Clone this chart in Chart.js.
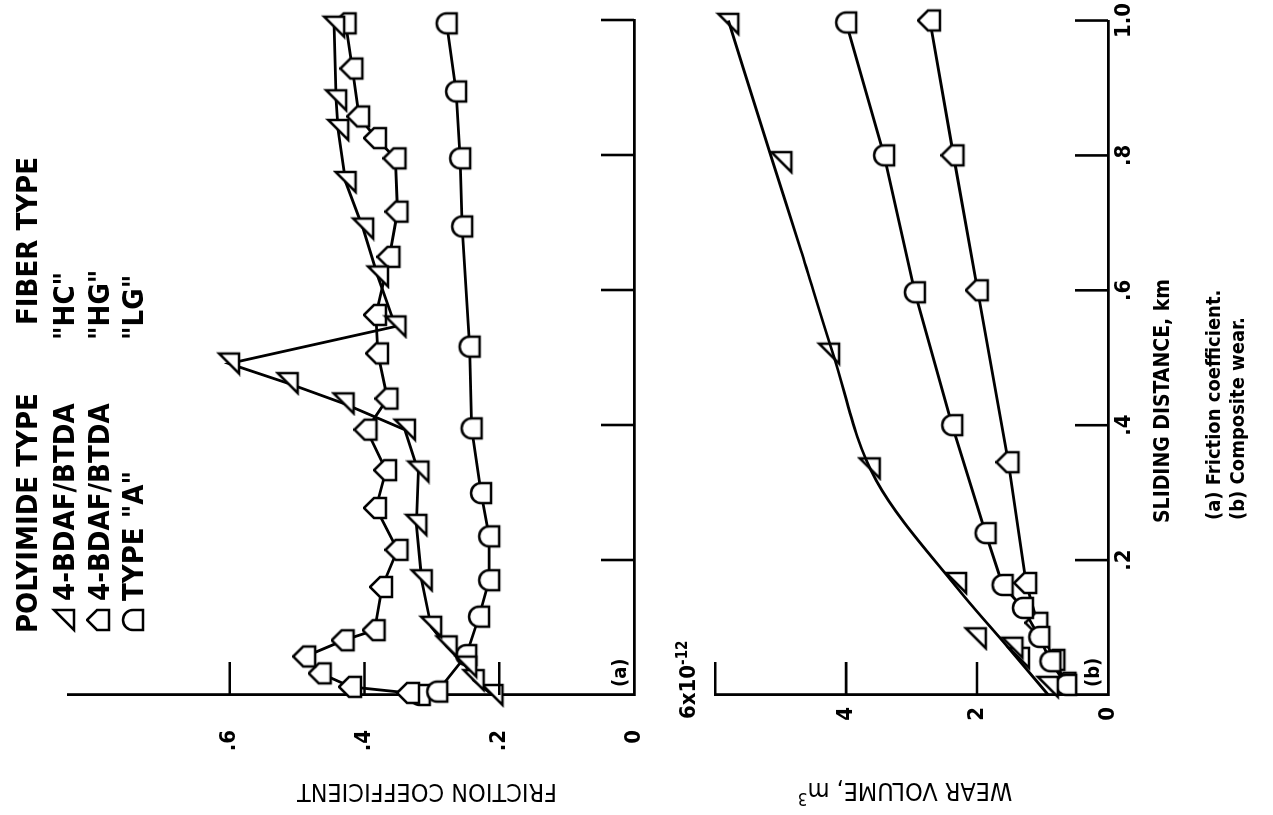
<!DOCTYPE html>
<html lang="en">
<head>
<meta charset="UTF-8">
<title>Friction and wear vs sliding distance</title>
<style>
    html, body { margin: 0; padding: 0; background: #fff; overflow: hidden; }
    body { width: 1273px; height: 815px; position: relative; }
    /* figure is laid out upright (815 x 1273) and turned a quarter turn */
    #fig {
        position: absolute; left: 0; top: 0;
        width: 815px; height: 1273px;
        transform-origin: 0 0;
        transform: translate(0px, 815px) rotate(-90deg);
    }
    #fig canvas { position: absolute; left: 0; }
    .t {
        position: absolute; white-space: nowrap; color: #000; line-height: 1;
        font-family: "Liberation Sans Narrow", "DejaVu Sans Condensed", "Liberation Sans", Arial, sans-serif;
    }
    .mid { transform: translateY(-50%); }
    .vert { transform: translate(-50%, -50%) rotate(-90deg); }
    .b { font-weight: bold; }
    .leg { font-size: 29px; font-weight: bold; }
    #fig img { position: absolute; }
</style>
</head>
<body>
<div id="fig">
    <canvas id="chartA" width="815" height="690" style="top:0"></canvas>
    <canvas id="chartB" width="815" height="583" style="top:690px"></canvas>

    <div class="t mid leg" style="left:182px; top:27px;">POLYIMIDE TYPE</div>
    <div class="t mid leg" style="left:490px; top:27px;">FIBER TYPE</div>
    <img id="legTri" style="left:182px; top:51px;">
    <img id="legHouse" style="left:182px; top:86px;">
    <img id="legArch" style="left:182px; top:120px;">
    <div class="t mid leg" style="left:214px; top:64px;">4-BDAF/BTDA</div>
    <div class="t mid leg" style="left:214px; top:99px;">4-BDAF/BTDA</div>
    <div class="t mid leg" style="left:214px; top:133px;">TYPE "A"</div>
    <div class="t mid leg" style="left:475px; top:64px;">"HC"</div>
    <div class="t mid leg" style="left:475px; top:99px;">"HG"</div>
    <div class="t mid leg" style="left:475px; top:133px;">"LG"</div>

    <div class="t mid b" style="left:128px; top:619px; font-size:20px;">(a)</div>
    <div class="t mid b" style="left:128px; top:1092px; font-size:20px;">(b)</div>
    <div class="t mid b" style="left:96px; top:687px; font-size:22px;">6x10<sup style="font-size:15px;">-12</sup></div>

    <div class="t vert" style="left:22px; top:427px; font-size:25px;">FRICTION COEFFICIENT</div>
    <div class="t vert" style="left:22px; top:905px; font-size:25px;">WEAR VOLUME, m<sup style="font-size:17px;">3</sup></div>

    <div class="t mid b" style="left:292px; top:1162px; font-size:21px;">SLIDING DISTANCE, km</div>
    <div class="t mid b" style="left:295px; top:1213px; font-size:20px;">(a) Friction coefficient.</div>
    <div class="t mid b" style="left:295px; top:1237px; font-size:20px;">(b) Composite wear.</div>
</div>

<script src="https://cdn.jsdelivr.net/npm/chart.js"></script>
<script>
    // axis ticks
    const distTicks = [0.2, 0.4, 0.6, 0.8, 1.0];
    const frictionTicks = [0, 0.2, 0.4, 0.6];
    const wearTicks = [0, 2, 4, 6];

    // (a) friction coefficient against sliding distance (km)
    const hcDistA = [0, 0.022, 0.042, 0.072, 0.101, 0.170, 0.252, 0.331, 0.393, 0.432, 0.462, 0.491, 0.546, 0.620, 0.691, 0.760, 0.837, 0.881, 0.990];
    const hcFricA = [0.21, 0.238, 0.249, 0.278, 0.301, 0.315, 0.323, 0.320, 0.340, 0.431, 0.514, 0.601, 0.354, 0.380, 0.402, 0.428, 0.439, 0.442, 0.445];
    const hgDistA = [0.003, 0.012, 0.032, 0.057, 0.081, 0.096, 0.160, 0.215, 0.277, 0.333, 0.393, 0.439, 0.506, 0.563, 0.649, 0.716, 0.795, 0.825, 0.857, 0.928, 0.995];
    const hgFricA = [0.334, 0.420, 0.465, 0.488, 0.431, 0.385, 0.374, 0.351, 0.383, 0.368, 0.397, 0.366, 0.380, 0.383, 0.363, 0.351, 0.354, 0.383, 0.408, 0.418, 0.428];
    const taDistA = [0, 0.005, 0.059, 0.116, 0.170, 0.235, 0.299, 0.395, 0.516, 0.694, 0.795, 0.894, 0.995];
    const taFricA = [0.318, 0.292, 0.249, 0.230, 0.215, 0.215, 0.227, 0.241, 0.244, 0.255, 0.258, 0.264, 0.278];

    // (b) wear volume (x10^-12 m3) against sliding distance (km)
    const hcDistB = [0.012, 0.055, 0.070, 0.084, 0.166, 0.336, 0.506, 0.790, 0.995];
    const hcWearB = [0.92, 1.36, 1.46, 2.02, 2.32, 3.64, 4.26, 4.99, 5.80];
    const hcCurveDist = [0, 0.071, 0.156, 0.318, 0.506, 0.659, 0.79, 1.0];
    const hcCurveWear = [0.91, 1.53, 2.28, 3.54, 4.2, 4.69, 5.12, 5.8];
    const taDistB = [0.015, 0.05, 0.086, 0.129, 0.163, 0.24, 0.40, 0.597, 0.80, 0.997];
    const taWearB = [0.64, 0.88, 1.05, 1.30, 1.61, 1.87, 2.38, 2.95, 3.42, 4.00];
    const hgDistB = [0.018, 0.052, 0.107, 0.166, 0.345, 0.60, 0.80, 1.0];
    const hgWearB = [0.65, 0.82, 1.08, 1.25, 1.52, 1.99, 2.36, 2.72];

    const FONT = '"Liberation Sans Narrow", "DejaVu Sans Condensed", "Liberation Sans", Arial, sans-serif';
    const INK = '#000';

    // hollow marker shapes, drawn upright
    function marker(kind) {
        const c = document.createElement('canvas');
        c.width = 26; c.height = 26;
        const g = c.getContext('2d');
        const r = 10;
        g.translate(13, 13);
        g.beginPath();
        if (kind === 'tri') {
            g.moveTo(r, -r); g.lineTo(r, r); g.lineTo(-r, r);
        } else if (kind === 'house') {
            g.moveTo(0, -r - 2); g.lineTo(r, -2); g.lineTo(r, r); g.lineTo(-r, r); g.lineTo(-r, -2);
        } else {
            g.moveTo(-r, r); g.lineTo(-r, 0); g.arc(0, 0, r, Math.PI, 0); g.lineTo(r, r);
        }
        g.closePath();
        g.fillStyle = '#fff'; g.fill();
        g.lineWidth = 2.5; g.strokeStyle = INK; g.stroke();
        return c;
    }
    const triImg = marker('tri');
    const houseImg = marker('house');
    const archImg = marker('arch');
    document.getElementById('legTri').src = triImg.toDataURL();
    document.getElementById('legHouse').src = houseImg.toDataURL();
    document.getElementById('legArch').src = archImg.toDataURL();

    const pts = (xs, ys) => xs.map((x, i) => ({ x: x, y: ys[i] }));

    function series(xs, ys, img) {
        return {
            data: pts(xs, ys), showLine: true, borderColor: INK, borderWidth: 2.8,
            pointStyle: img, pointRadius: 10, clip: false
        };
    }

    // short tick marks pointing into the plot
    const innerTicks = {
        id: 'innerTicks',
        afterDatasetsDraw(chart, args, opts) {
            const ctx = chart.ctx;
            const area = chart.chartArea;
            ctx.save();
            ctx.strokeStyle = INK;
            ctx.lineWidth = 2.6;
            ctx.beginPath();
            opts.x.forEach(v => {
                const px = chart.scales.x.getPixelForValue(v);
                ctx.moveTo(px, area.bottom); ctx.lineTo(px, area.bottom - opts.len);
            });
            opts.y.forEach(v => {
                const py = chart.scales.y.getPixelForValue(v);
                ctx.moveTo(area.left, py); ctx.lineTo(area.left + opts.len, py);
            });
            ctx.stroke();
            ctx.restore();
        }
    };

    const fmt = v => v === 0 ? '0' : v.toFixed(1).replace(/^0/, '');

    function axisX(showLabels, height) {
        return {
            type: 'linear', min: 0, max: 1,
            afterBuildTicks: s => { s.ticks = distTicks.map(v => ({ value: v })); },
            afterFit: s => { s.height = height; },
            grid: { display: false, drawTicks: false },
            border: { display: true, width: 2.8, color: INK },
            ticks: {
                display: showLabels, autoSkip: false, maxRotation: 0, padding: 3,
                color: INK, font: { family: FONT, size: 22, weight: 'bold' },
                callback: fmt
            }
        };
    }

    new Chart(document.getElementById('chartA'), {
        type: 'scatter',
        data: {
            datasets: [
                series(hcDistA, hcFricA, triImg),
                series(hgDistA, hgFricA, houseImg),
                series(taDistA, taFricA, archImg)
            ]
        },
        options: {
            responsive: false, animation: false, events: [],
            layout: { padding: { top: 68, right: 20, left: 0, bottom: 0 } },
            plugins: {
                legend: { display: false }, tooltip: { enabled: false },
                innerTicks: { x: distTicks, y: [0.2, 0.4, 0.6], len: 33 }
            },
            scales: {
                x: axisX(false, 56),
                y: {
                    type: 'linear', min: 0, max: 0.84,
                    afterBuildTicks: s => { s.ticks = frictionTicks.map(v => ({ value: v })); },
                    afterFit: s => { s.width = 120; },
                    grid: { display: false, drawTicks: false },
                    border: { display: true, width: 2.8, color: INK },
                    ticks: { padding: 35, color: INK, font: { family: FONT, size: 22, weight: 'bold' }, callback: fmt }
                }
            }
        },
        plugins: [innerTicks]
    });

    const hcCurve = {
        data: pts(hcCurveDist, hcCurveWear), showLine: true, borderColor: INK, borderWidth: 2.8,
        pointRadius: 0, cubicInterpolationMode: 'monotone', clip: false
    };
    const hcMarks = { data: pts(hcDistB, hcWearB), showLine: false, pointStyle: triImg, pointRadius: 10, clip: false };

    new Chart(document.getElementById('chartB'), {
        type: 'scatter',
        data: {
            datasets: [
                hcCurve, hcMarks,
                series(taDistB, taWearB, archImg),
                series(hgDistB, hgWearB, houseImg)
            ]
        },
        options: {
            responsive: false, animation: false, events: [],
            layout: { padding: { top: 15, right: 20, left: 0, bottom: 0 } },
            plugins: {
                legend: { display: false }, tooltip: { enabled: false },
                innerTicks: { x: distTicks, y: [2, 4, 6], len: 33 }
            },
            scales: {
                x: axisX(true, 165),
                y: {
                    type: 'linear', min: 0, max: 6,
                    afterBuildTicks: s => { s.ticks = wearTicks.map(v => ({ value: v })); },
                    afterFit: s => { s.width = 120; },
                    grid: { display: false, drawTicks: false },
                    border: { display: true, width: 2.8, color: INK },
                    // the top label is written out with its exponent beside the axis
                    ticks: { padding: 12, color: INK, font: { family: FONT, size: 22, weight: 'bold' }, callback: v => v === 6 ? '' : String(v) }
                }
            }
        },
        plugins: [innerTicks]
    });
</script>
</body>
</html>
